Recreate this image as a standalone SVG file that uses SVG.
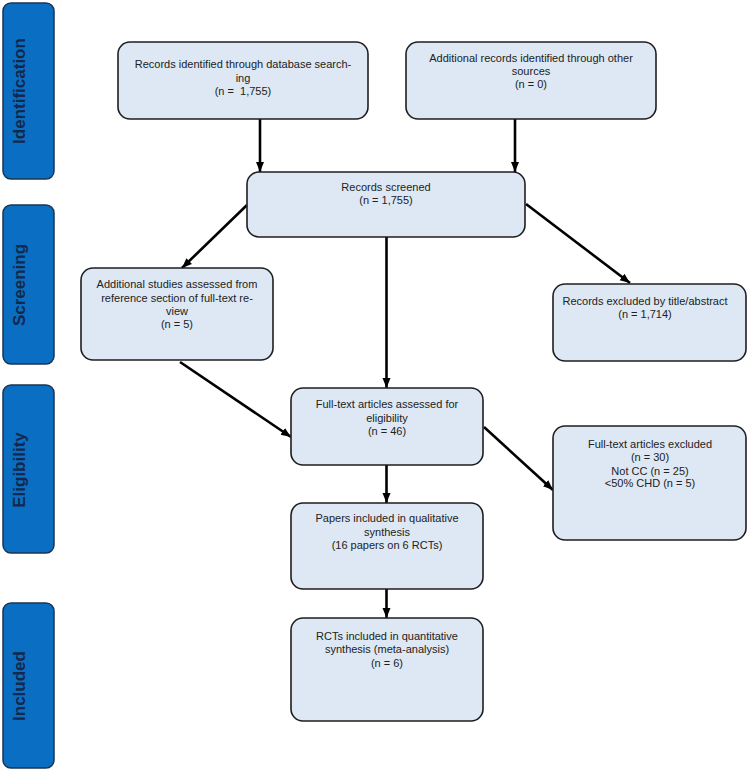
<svg xmlns="http://www.w3.org/2000/svg" width="750" height="770" viewBox="0 0 750 770">
<defs>
<style>
.bar{fill:#0a6fc2;stroke:#1d3550;stroke-width:1.5}
.barT{font-family:"Liberation Sans",Arial,sans-serif;font-size:17px;font-weight:bold;fill:#14284b;text-anchor:middle}
.box{fill:#dde8f4;stroke:#1e1e1e;stroke-width:1.6}
.t{font-family:"Liberation Sans",Arial,sans-serif;font-size:11px;fill:#222;text-anchor:middle}
.c{stroke:#000;stroke-width:2.6;fill:none;marker-end:url(#ah)}
</style>
<marker id="ah" markerUnits="userSpaceOnUse" markerWidth="10" markerHeight="10" viewBox="0 0 10 10" refX="10" refY="5" orient="auto">
<path d="M0,1 L10,5 L0,9 z" fill="#000"/>
</marker>
</defs>
<rect width="750" height="770" fill="#fff"/>

<g id="phase-identification"><rect class="bar" x="3" y="3" width="51" height="176" rx="8"/><text class="barT" transform="translate(25,91) rotate(-90)">Identification</text></g>
<g id="phase-screening"><rect class="bar" x="3" y="205" width="51" height="159" rx="8"/><text class="barT" transform="translate(25,285) rotate(-90)">Screening</text></g>
<g id="phase-eligibility"><rect class="bar" x="3" y="385" width="51" height="168" rx="8"/><text class="barT" transform="translate(25,470) rotate(-90)">Eligibility</text></g>
<g id="phase-included"><rect class="bar" x="3" y="603" width="51" height="165" rx="8"/><text class="barT" transform="translate(25,686) rotate(-90)">Included</text></g>

<g id="connectors">
<line class="c" x1="260" y1="119" x2="260" y2="172"/>
<line class="c" x1="515" y1="119" x2="515" y2="172"/>
<line class="c" x1="247" y1="205" x2="182" y2="268"/>
<line class="c" x1="386.5" y1="237" x2="386.5" y2="388"/>
<line class="c" x1="526" y1="204" x2="630" y2="283"/>
<line class="c" x1="180" y1="362" x2="291" y2="437"/>
<line class="c" x1="484" y1="427" x2="553" y2="490"/>
<line class="c" x1="386.5" y1="465" x2="386.5" y2="503"/>
<line class="c" x1="386.5" y1="589" x2="386.5" y2="618"/>
</g>

<g id="n-db"><rect class="box" x="118" y="42" width="250" height="77" rx="12"/>
<text class="t" x="243" y="68">Records identified through database search-</text>
<text class="t" x="243" y="82">ing</text>
<text class="t" x="243" y="95" xml:space="preserve">(n =  1,755)</text></g>

<g id="n-other"><rect class="box" x="406" y="42" width="250" height="77" rx="12"/>
<text class="t" x="531" y="61.5">Additional records identified through other</text>
<text class="t" x="531" y="75">sources</text>
<text class="t" x="531" y="88">(n = 0)</text></g>

<g id="n-screened"><rect class="box" x="247" y="172" width="278" height="65" rx="12"/>
<text class="t" x="386" y="191">Records screened</text>
<text class="t" x="386" y="204">(n = 1,755)</text></g>

<g id="n-additional"><rect class="box" x="81" y="268" width="192" height="92" rx="12"/>
<text class="t" x="177" y="288">Additional studies assessed from</text>
<text class="t" x="177" y="302">reference section of full-text re-</text>
<text class="t" x="177" y="315">view</text>
<text class="t" x="177" y="328">(n = 5)</text></g>

<g id="n-excluded-title"><rect class="box" x="553" y="284" width="193" height="77" rx="12"/>
<text class="t" x="645" y="304.5">Records excluded by title/abstract</text>
<text class="t" x="645" y="318">(n = 1,714)</text></g>

<g id="n-fulltext"><rect class="box" x="291" y="388" width="192" height="77" rx="12"/>
<text class="t" x="387" y="408">Full-text articles assessed for</text>
<text class="t" x="387" y="421.5">eligibility</text>
<text class="t" x="387" y="435">(n = 46)</text></g>

<g id="n-ft-excluded"><rect class="box" x="553" y="426" width="193" height="114" rx="12"/>
<text class="t" x="650" y="448">Full-text articles excluded</text>
<text class="t" x="650" y="461">(n = 30)</text>
<text class="t" x="650" y="474.5">Not CC (n = 25)</text>
<text class="t" x="650" y="487">&lt;50% CHD (n = 5)</text></g>

<g id="n-qualitative"><rect class="box" x="291" y="503" width="192" height="86" rx="12"/>
<text class="t" x="387" y="522">Papers included in qualitative</text>
<text class="t" x="387" y="536">synthesis</text>
<text class="t" x="387" y="549">(16 papers on 6 RCTs)</text></g>

<g id="n-quantitative"><rect class="box" x="291" y="618" width="192" height="103" rx="12"/>
<text class="t" x="387" y="639.5">RCTs included in quantitative</text>
<text class="t" x="387" y="652.5">synthesis (meta-analysis)</text>
<text class="t" x="387" y="667">(n = 6)</text></g>
</svg>
